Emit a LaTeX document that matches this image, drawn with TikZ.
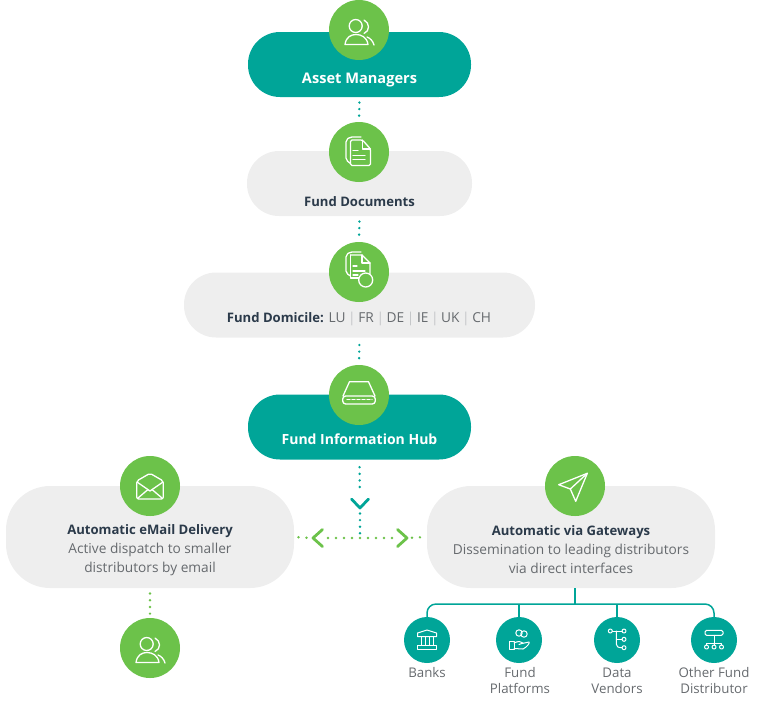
\documentclass[tikz,border=0pt]{standalone}
\usepackage{fontspec}
\setmainfont{Open Sans}
\usetikzlibrary{positioning}
\definecolor{hubteal}{HTML}{00A598}
\definecolor{leafgreen}{HTML}{6CC24A}
\definecolor{pillgrey}{HTML}{EEEEEE}
\definecolor{inkdark}{HTML}{2B3A4A}
\definecolor{inkgrey}{HTML}{666A6E}
\definecolor{bargrey}{HTML}{C4C6C8}
\newcommand{\pipe}{\textcolor{bargrey}{\kern2.6pt|\kern2.6pt}}
\newcommand{\headfont}{\fontsize{13.1}{19}\selectfont\bfseries\color{inkdark}}
\tikzset{
	pill/.style={rectangle,rounded corners=32pt,minimum width=#1,minimum height=65pt,inner sep=0pt},
	tealpill/.style={pill=223pt,fill=hubteal},
	greypill/.style={pill=#1,fill=pillgrey},
	widepill/.style={rectangle,rounded corners=44pt,minimum width=288pt,minimum height=102pt,inner sep=0pt,fill=pillgrey},
	bigicon/.style={circle,fill=leafgreen,minimum size=60pt,inner sep=0pt},
	smallicon/.style={circle,fill=hubteal,minimum size=46pt,inner sep=0pt},
	pilltext/.style={font=\fontsize{13.7}{19}\selectfont,align=center,text=inkgrey,inner sep=0pt},
	leaftext/.style={font=\fontsize{13.3}{16}\selectfont,align=center,text=inkgrey,inner sep=0pt,anchor=north},
	tealdots/.style={draw=hubteal,line width=2.7pt,line cap=round,dash pattern=on 0pt off 6.6pt},
	greendots/.style={draw=leafgreen,line width=2.7pt,line cap=round,dash pattern=on 0pt off 8pt},
	chevron/.style={line width=2.8pt,line cap=round,line join=round},
	glyph/.style={draw=white,line width=1.3pt,line cap=round,line join=round},
	thinglyph/.style={draw=white,line width=1pt,line cap=round,line join=round},
	pics/peopleglyph/.style={code={
		\draw[glyph] (-3.3,-4) circle (6.5);
		\draw[glyph] (-14,14.5) .. controls (-13,7) and (-8,4.5) .. (-3,4.5) .. controls (2,4.5) and (8,7) .. (9,14.5) -- cycle;
		\draw[glyph] (5,-10) .. controls (11,-7) and (11,1) .. (5,3.5);
		\draw[glyph] (8,7) .. controls (11,8) and (14,11) .. (15,15);
	}},
	pics/docsglyph/.style={code={
		\draw[glyph,rounded corners=1.5pt] (-8.5,-12) -- (3.5,-12) -- (11.5,-3) -- (11.5,13.5) -- (-8.5,13.5) -- cycle;
		\draw[glyph] (3.5,-12) -- (3.5,-3) -- (11.5,-3);
		\draw[glyph,rounded corners=2pt] (-8.5,11.5) -- (-13,8) -- (-13,-12) -- (-9,-15) -- (2,-15);
		\draw[glyph] (-6,-1.7) -- (-1,-1.7);
		\draw[glyph] (-6,3.3) -- (6,3.3);
		\draw[glyph] (-6,7.7) -- (6,7.7);
	}},
	pics/domicileglyph/.style={code={
		\draw[glyph] (-8.5,-17) -- (3,-17) -- (11,-9) -- (11,2);
		\draw[glyph] (3,-17) -- (3,-9) -- (11,-9);
		\draw[glyph] (-8.5,-17) -- (-8.5,6) -- (0,6);
		\draw[glyph,rounded corners=2pt] (-8.5,4) -- (-13,1) -- (-13,-17) -- (-9,-20) -- (2,-20);
		\draw[glyph] (-6,-6) -- (-2,-6);
		\draw[glyph] (-6,-1) -- (6,-1);
		\draw[glyph] (-6,3) -- (-1,3);
		\draw[glyph,fill=leafgreen] (6.7,8) circle (7);
	}},
	pics/hubglyph/.style={code={
		\draw[glyph] (-16,1) -- (-9.5,-13.3) -- (9.5,-13.3) -- (16,1);
		\draw[glyph,rounded corners=3pt] (-16.3,1) rectangle (16.3,9);
		\draw[glyph,dash pattern=on 3pt off 2pt] (-12,4.7) -- (13,4.7);
	}},
	pics/mailglyph/.style={code={
		\draw[glyph,rounded corners=2pt] (-13.3,-5) -- (0,-12.7) -- (13.3,-5) -- (13.3,13) -- (-13.3,13) -- cycle;
		\draw[glyph] (-13,-4) -- (0,5) -- (13,-4);
		\draw[glyph] (-12,12) -- (-2,3.5);
		\draw[glyph] (12,12) -- (2,3.5);
	}},
	pics/planeglyph/.style={code={
		\draw[glyph] (12.3,-12.7) -- (-16.3,-1.3) -- (-4.7,3) -- (0.7,15.3) -- cycle;
		\draw[glyph] (-4.7,3) -- (12.3,-12.7);
	}},
	pics/bankglyph/.style={code={
		\draw[thinglyph] (-9.5,-7) -- (0,-10) -- (9.5,-7) -- (9.5,-3.5) -- (-9.5,-3.5) -- cycle;
		\foreach \colx in {-6,-2,2,6} \draw[thinglyph] (\colx,-3.5) -- (\colx,5);
		\draw[thinglyph] (-9.5,5) rectangle (9.5,9);
	}},
	pics/handglyph/.style={code={
		\draw[thinglyph] (0,-7) circle (3.2);
		\draw[thinglyph] (5,-6) circle (3.2);
		\draw[thinglyph] (-10,1.5) rectangle (-5,9.5);
		\draw[thinglyph] (-5,3) .. controls (-1,1) and (2,1) .. (4,3) -- (0,4.5) (3,3.5) -- (10,2) .. controls (11,3) and (8,7) .. (4,9) -- (-5,8.5);
	}},
	pics/treeglyph/.style={code={
		\draw[thinglyph] (-6.7,-9) circle (2);
		\draw[thinglyph] (7,-9) circle (2);
		\draw[thinglyph] (7,-0.7) circle (2);
		\draw[thinglyph] (7,7.7) circle (2);
		\draw[thinglyph] (-4.7,-9) -- (5,-9);
		\draw[thinglyph] (-0.7,-9) -- (-0.7,4) .. controls (-0.7,6.5) and (1,7.7) .. (5,7.7);
		\draw[thinglyph] (-0.7,-0.7) -- (5,-0.7);
	}},
	pics/orgglyph/.style={code={
		\draw[thinglyph,rounded corners=1.5pt] (-9,-9.7) rectangle (9,-4.7);
		\draw[thinglyph] (0,-4.7) -- (0,5);
		\draw[thinglyph] (-7.5,5) -- (-7.5,3) -- (7.5,3) -- (7.5,5);
		\foreach \orgx in {-7.5,0,7.5} \draw[thinglyph] (\orgx,7) circle (2);
	}},
}
\begin{document}
\begin{tikzpicture}[x=1pt,y=-1pt]
	\useasboundingbox (0,0) rectangle (759,702);
	% pills
	\node[tealpill] (managerspill) at (359.5,64.5) {};
	\node[greypill=225pt] (docspill) at (359.5,183.5) {};
	\node[greypill=351pt] (domicilepill) at (359.5,305) {};
	\node[tealpill] (hubpill) at (359.5,427) {};
	\node[widepill] (mailpill) at (150,537) {};
	\node[widepill] (gatewaypill) at (571,537) {};
	% junctions of the dotted lines
	\coordinate (chevdown) at (360,508);
	\coordinate (junction) at (360,538);
	\coordinate (chevleft) at (313,538);
	\coordinate (chevright) at (407,538);
	\coordinate (busstem) at (575,604);
	% dotted connectors, behind the icons
	\node[bigicon] (managersicon) at (359,30) {};
	\node[bigicon] (docsicon) at (359,152) {};
	\node[bigicon] (domicileicon) at (359,272) {};
	\node[bigicon] (hubicon) at (359,395) {};
	\node[bigicon] (mailicon) at (150,486) {};
	\node[bigicon] (gatewayicon) at (575,486) {};
	\node[bigicon] (receivericon) at (150,648) {};
	\node[smallicon] (banksicon) at (427,640) {};
	\node[smallicon] (platformsicon) at (519,640) {};
	\node[smallicon] (vendorsicon) at (617,640) {};
	\node[smallicon] (othericon) at (714,640) {};
	\draw[tealdots,shorten <=5.3pt,shorten >=5.5pt] (managerspill.south) -- (docsicon.north);
	\draw[tealdots,shorten <=5.3pt,shorten >=5.5pt] (docspill.south) -- (domicileicon.north);
	\draw[tealdots,shorten <=7.3pt,shorten >=6.5pt] (domicilepill.south) -- (hubicon.north);
	\draw[tealdots,shorten <=7.5pt,shorten >=15pt] (hubpill.south) -- (chevdown);
	\draw[tealdots,shorten <=5.5pt,shorten >=2pt] (chevdown) -- (junction);
	\draw[greendots,shorten <=4.3pt,shorten >=5pt] (mailpill.east) -- (chevleft);
	\draw[greendots,shorten <=15pt,shorten >=14pt] (chevleft) -- (chevright);
	\draw[greendots,shorten <=5pt,shorten >=2pt] (chevright) -- (gatewaypill.west);
	\draw[greendots,dash pattern=on 0pt off 6.7pt,shorten <=5.3pt,shorten >=3pt] (mailpill.south) -- (receivericon.north);
	% chevrons
	\draw[chevron,hubteal] ([shift={(-8.5,-9)}]chevdown) -- (chevdown) -- ([shift={(8.5,-9)}]chevdown);
	\draw[chevron,leafgreen] ([shift={(9.5,-8.5)}]chevleft) -- (chevleft) -- ([shift={(9.5,8.5)}]chevleft);
	\draw[chevron,leafgreen] ([shift={(-9.5,-8.5)}]chevright) -- (chevright) -- ([shift={(-9.5,8.5)}]chevright);
	% teal bus
	\draw[hubteal,line width=1.5pt] (gatewaypill.south -| busstem) -- (busstem);
	\draw[hubteal,line width=1.5pt,rounded corners=9pt] (banksicon.north) |- (busstem) -| (othericon.north);
	\draw[hubteal,line width=1.5pt] (platformsicon.north) -- (platformsicon.north |- busstem);
	\draw[hubteal,line width=1.5pt] (vendorsicon.north) -- (vendorsicon.north |- busstem);
	% icons
	\pic at (managersicon) {peopleglyph};
	\pic at (docsicon) {docsglyph};
	\pic at (domicileicon) {domicileglyph};
	\pic at (hubicon) {hubglyph};
	\pic at (mailicon) {mailglyph};
	\pic at (gatewayicon) {planeglyph};
	\pic at (receivericon) {peopleglyph};
	\pic at (banksicon) {bankglyph};
	\pic at (platformsicon) {handglyph};
	\pic at (vendorsicon) {treeglyph};
	\pic at (othericon) {orgglyph};
	% texts
	\node[pilltext,text=white,font=\fontsize{14.6}{19}\selectfont\bfseries] (managerstext) at (359.5,80) {Asset Managers};
	\node[pilltext,text=inkdark,font=\fontsize{13.1}{19}\selectfont\bfseries] (docstext) at (359.5,201.5) {Fund Documents};
	\node[pilltext] (domiciletext) at (359,319) {{\headfont Fund Domicile:} LU\pipe FR\pipe DE\pipe IE\pipe UK\pipe CH};
	\node[pilltext,text=white,font=\fontsize{14}{19}\selectfont\bfseries] (hubtext) at (359.5,439.5) {Fund Information Hub};
	\node[pilltext] (mailtext) at (150,549.7) {{\headfont Automatic eMail Delivery}\\Active dispatch to smaller\\distributors by email};
	\node[pilltext] (gatewaytext) at (571,549.7) {{\headfont Automatic via Gateways}\\Dissemination to leading distributors\\via direct interfaces};
	\node[leaftext] (bankstext) at (427,667) {Banks};
	\node[leaftext] (platformstext) at (520,667) {Fund\\Platforms};
	\node[leaftext] (vendorstext) at (617,667.7) {Data\\Vendors};
	\node[leaftext] (othertext) at (714,667) {Other Fund\\Distributor};
\end{tikzpicture}
\end{document}
